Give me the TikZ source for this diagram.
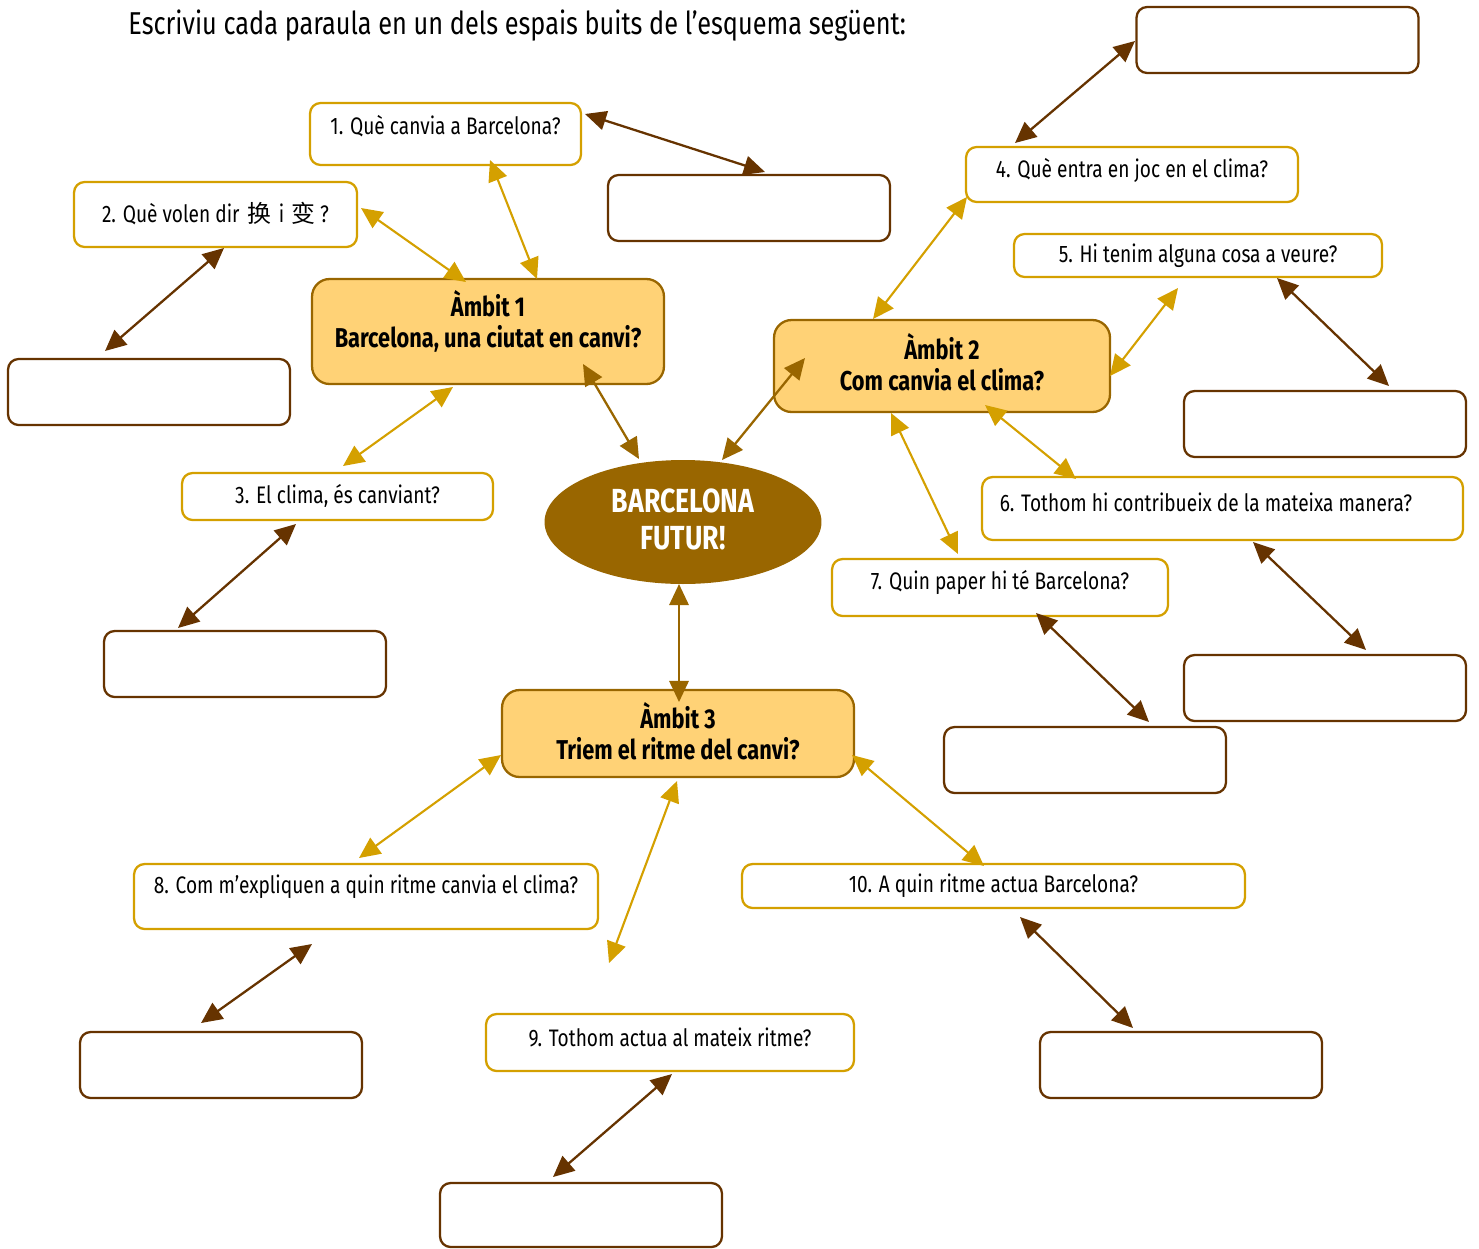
\documentclass[tikz,border=0pt]{standalone}
\usepackage{fontspec}
\setmainfont{Fira Sans}[FakeStretch=0.8]
\newfontfamily\cjk{Noto Sans CJK SC}
\usetikzlibrary{arrows.meta,shapes.geometric}
\definecolor{gold}{RGB}{212,160,0}
\definecolor{dbrown}{RGB}{102,51,0}
\definecolor{mbrown}{RGB}{153,102,0}
\definecolor{ambfill}{RGB}{255,210,118}
\tikzset{
  qbox/.style={draw=gold,line width=1.3pt,rounded corners=6pt,fill=white,inner sep=0pt},
  ebox/.style={draw=dbrown,line width=1.3pt,rounded corners=6pt,fill=white,inner sep=0pt,minimum width=5.64cm,minimum height=1.32cm},
  abox/.style={draw=mbrown,line width=1.3pt,rounded corners=10pt,fill=ambfill,inner sep=0pt},
  qtext/.style={font=\fontsize{13.6}{16}\selectfont,inner sep=0pt},
  atext/.style={font=\fontsize{15.5}{17.5}\selectfont\bfseries,align=center,inner sep=0pt},
  tipa/.style={{Triangle[length=12pt,width=11pt]}-{Triangle[length=12pt,width=11pt]}},
  garr/.style={tipa,draw=gold,line width=1.2pt},
  barr/.style={tipa,draw=dbrown,line width=1.3pt},
  marr/.style={tipa,draw=mbrown,line width=1.3pt},
}
\begin{document}
\begin{tikzpicture}[x=0.02cm,y=-0.02cm]
\useasboundingbox (0,0) rectangle (1479,1248);
\node[font=\fontsize{18}{21}\selectfont,anchor=west,inner sep=0pt] (title) at (128,26) {Escriviu cada paraula en un dels espais buits de l’esquema següent:};

% question boxes
\node[qbox,minimum width=5.42cm,minimum height=1.24cm] (q1) at (445.5,134) {};
\node[qtext] (q1t) at (445.5,126) {1. Què canvia a Barcelona?};
\node[qbox,minimum width=5.66cm,minimum height=1.30cm] (q2) at (215.5,214.5) {};
\node[qtext] (q2t) at (215.5,214) {2. Què volen dir\hspace{0.35em}{\cjk 换}\hspace{0.3em}i\hspace{0.3em}{\cjk 变}\hspace{0.2em}?};
\node[qbox,minimum width=6.22cm,minimum height=0.94cm] (q3) at (337.5,496.5) {};
\node[qtext] (q3t) at (337.5,496) {3. El clima, és canviant?};
\node[qbox,minimum width=6.64cm,minimum height=1.10cm] (q4) at (1132,174.5) {};
\node[qtext] (q4t) at (1132,170) {4. Què entra en joc en el clima?};
\node[qbox,minimum width=7.36cm,minimum height=0.86cm] (q5) at (1198,255.5) {};
\node[qtext] (q5t) at (1198,256) {5. Hi tenim alguna cosa a veure?};
\node[qbox,minimum width=9.62cm,minimum height=1.26cm] (q6) at (1222.5,508.5) {};
\node[qtext] (q6t) at (1206,502) {6. Tothom hi contribueix de la mateixa manera?};
\node[qbox,minimum width=6.72cm,minimum height=1.14cm] (q7) at (1000,587.5) {};
\node[qtext] (q7t) at (1000,582) {7. Quin paper hi té Barcelona?};
\node[qbox,minimum width=9.28cm,minimum height=1.30cm] (q8) at (366,896.5) {};
\node[qtext] (q8t) at (366,887) {8. Com m’expliquen a quin ritme canvia el clima?};
\node[qbox,minimum width=7.36cm,minimum height=1.14cm] (q9) at (670,1042.5) {};
\node[qtext] (q9t) at (670,1037) {9. Tothom actua al mateix ritme?};
\node[qbox,minimum width=10.06cm,minimum height=0.88cm] (q10) at (993.5,886) {};
\node[qtext] (q10t) at (993.5,886) {10. A quin ritme actua Barcelona?};

% ambit boxes
\node[abox,minimum width=7.04cm,minimum height=2.10cm] (a1) at (488,331.5) {};
\node[atext] (a1t) at (488,321.5) {Àmbit 1\\Barcelona, una ciutat en canvi?};
\node[abox,minimum width=6.72cm,minimum height=1.84cm] (a2) at (942,366) {};
\node[atext] (a2t) at (942,362) {Àmbit 2\\Com canvia el clima?};
\node[abox,minimum width=7.04cm,minimum height=1.74cm] (a3) at (678,733.5) {};
\node[atext] (a3t) at (678,731.5) {Àmbit 3\\Triem el ritme del canvi?};

% centre
\node[ellipse,fill=mbrown,minimum width=5.54cm,minimum height=2.48cm,inner sep=0pt] (c) at (683,522) {};
\node[font=\fontsize{19}{21}\selectfont\bfseries,text=white,align=center,inner sep=0pt] (ct) at (683,519) {BARCELONA\\FUTUR!};

% empty boxes
\node[ebox] (e1) at (1277.5,40) {};
\node[ebox] (e2) at (749,208) {};
\node[ebox] (e3) at (149,392) {};
\node[ebox] (e4) at (1325,424) {};
\node[ebox] (e5) at (245,664) {};
\node[ebox] (e6) at (1325,688) {};
\node[ebox] (e7) at (1085,760) {};
\node[ebox] (e8) at (221,1065) {};
\node[ebox] (e9) at (1181,1065) {};
\node[ebox,minimum height=1.28cm] (e10) at (581,1215) {};

% arrow end coordinates
\coordinate (b1a) at (1135,41);  \coordinate (b1b) at (1015,143);
\coordinate (b2a) at (585,114);  \coordinate (b2b) at (765,172);
\coordinate (b3a) at (224,248);  \coordinate (b3b) at (105,351);
\coordinate (b4a) at (1277,278); \coordinate (b4b) at (1389,386);
\coordinate (b5a) at (296,524);  \coordinate (b5b) at (178,628);
\coordinate (b6a) at (1253,542); \coordinate (b6b) at (1366,650);
\coordinate (b7a) at (1036,613); \coordinate (b7b) at (1149,722);
\coordinate (b8a) at (312,944);  \coordinate (b8b) at (201,1023);
\coordinate (b9a) at (1020,917); \coordinate (b9b) at (1133,1028);
\coordinate (b10a) at (672,1074); \coordinate (b10b) at (553,1177);

\coordinate (g1a) at (361,208);  \coordinate (g1b) at (466,282);
\coordinate (g2a) at (490,160);  \coordinate (g2b) at (537,279);
\coordinate (g3a) at (453,387);  \coordinate (g3b) at (343,466);
\coordinate (g4a) at (967,197);  \coordinate (g4b) at (873,319);
\coordinate (g5a) at (1110,376); \coordinate (g5b) at (1178,288);
\coordinate (g6a) at (985,405);  \coordinate (g6b) at (1076,479);
\coordinate (g7a) at (891,413);  \coordinate (g7b) at (958,554);
\coordinate (g8a) at (501,755);  \coordinate (g8b) at (359,858);
\coordinate (g9a) at (677,781);  \coordinate (g9b) at (609,963);
\coordinate (g10a) at (852,755); \coordinate (g10b) at (984,866);

\coordinate (m1a) at (583,364);  \coordinate (m1b) at (639,459);
\coordinate (m2a) at (805,358);  \coordinate (m2b) at (722,460);
\coordinate (m3a) at (679,584);  \coordinate (m3b) at (679,702);

\foreach \i in {1,...,10} {\draw[barr] (b\i a) -- (b\i b);}
\foreach \i in {1,...,10} {\draw[garr] (g\i a) -- (g\i b);}
\foreach \i in {1,2,3} {\draw[marr] (m\i a) -- (m\i b);}
\end{tikzpicture}
\end{document}
